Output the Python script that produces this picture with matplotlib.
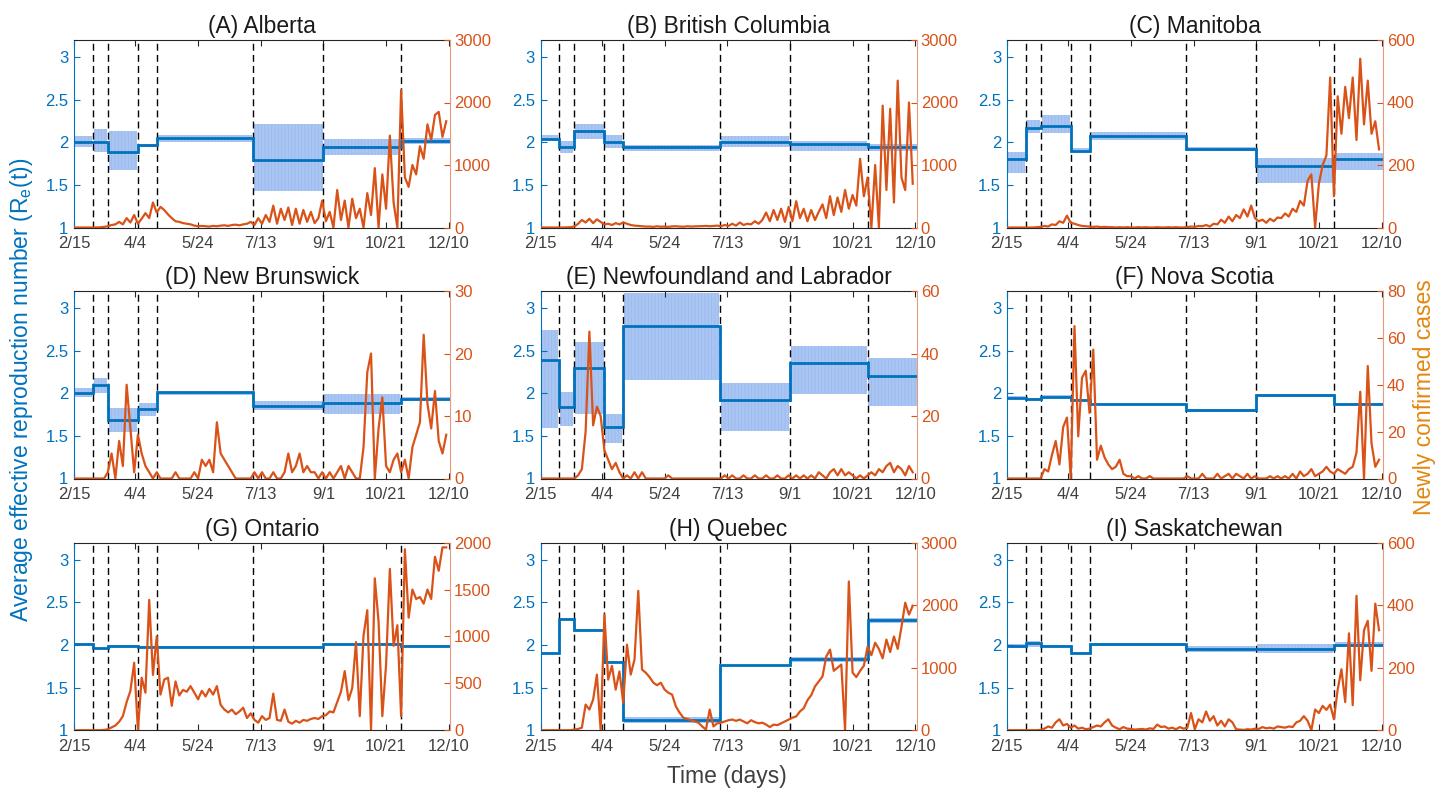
import numpy as np
import matplotlib
matplotlib.use("Agg")
import matplotlib.pyplot as plt

plt.rcParams['font.family'] = ['Liberation Sans', 'DejaVu Sans']
plt.rcParams['hatch.linewidth'] = 0.6

BLUE = '#0072BD'
ORANGE = '#D95319'
BAND = '#a9c6f3'
HATCH = '#9bbaee'
GRAY = '#262626'

# ---------------- shared axes data ----------------
change_days = [15, 27, 51, 66, 143, 199, 261]
seg_bounds = [0] + change_days + [300]
tick_days = [0, 49, 99, 149, 199, 249, 299]
tick_labels = ['2/15', '4/4', '5/24', '7/13', '9/1', '10/21', '12/10']
case_days = np.arange(0, 300, 3)
re_ticks = [1, 1.5, 2, 2.5, 3]
re_tick_labels = ['1', '1.5', '2', '2.5', '3']

titles = ['(A) Alberta', '(B) British Columbia', '(C) Manitoba',
          '(D) New Brunswick', '(E) Newfoundland and Labrador', '(F) Nova Scotia',
          '(G) Ontario', '(H) Quebec', '(I) Saskatchewan']

# ---------------- effective reproduction number (per segment) ----------------
re_A_mean = [2.00, 2.00, 1.89, 1.965, 2.045, 1.79, 1.945, 2.01]
re_A_low  = [1.94, 1.89, 1.68, 1.945, 2.00, 1.43, 1.85, 1.98]
re_A_high = [2.07, 2.15, 2.13, 1.985, 2.08, 2.21, 2.04, 2.05]

re_B_mean = [2.04, 1.95, 2.13, 2.00, 1.94, 2.00, 1.975, 1.945]
re_B_low  = [2.01, 1.88, 2.04, 1.93, 1.90, 1.94, 1.90, 1.90]
re_B_high = [2.08, 2.02, 2.22, 2.08, 1.97, 2.07, 2.02, 1.98]

re_C_mean = [1.80, 2.17, 2.19, 1.90, 2.07, 1.92, 1.72, 1.80]
re_C_low  = [1.64, 2.11, 2.11, 1.87, 2.03, 1.90, 1.52, 1.68]
re_C_high = [1.89, 2.26, 2.32, 1.93, 2.12, 1.94, 1.82, 1.87]

re_D_mean = [2.00, 2.10, 1.69, 1.815, 2.01, 1.845, 1.89, 1.935]
re_D_low  = [1.955, 2.00, 1.55, 1.73, 1.98, 1.80, 1.755, 1.915]
re_D_high = [2.065, 2.185, 1.825, 1.885, 2.02, 1.905, 1.99, 1.955]

re_E_mean = [2.39, 1.84, 2.30, 1.60, 2.79, 1.925, 2.36, 2.20]
re_E_low  = [1.59, 1.62, 1.76, 1.42, 2.16, 1.555, 1.995, 1.855]
re_E_high = [2.74, 2.02, 2.60, 1.76, 3.175, 2.125, 2.56, 2.41]

re_F_mean = [1.95, 1.93, 1.96, 1.92, 1.875, 1.80, 1.975, 1.875]
re_F_low  = [1.935, 1.915, 1.945, 1.905, 1.86, 1.785, 1.96, 1.86]
re_F_high = [1.965, 1.945, 1.975, 1.935, 1.89, 1.815, 1.99, 1.89]

re_G_mean = [2.008, 1.96, 1.99, 1.973, 1.973, 1.973, 2.016, 1.988]
re_G_low  = [1.998, 1.95, 1.98, 1.963, 1.963, 1.963, 2.006, 1.978]
re_G_high = [2.018, 1.97, 2.00, 1.983, 1.983, 1.983, 2.026, 1.998]

re_H_mean = [1.905, 2.305, 2.18, 1.80, 1.115, 1.76, 1.83, 2.29]
re_H_low  = [1.895, 2.29, 2.17, 1.785, 1.08, 1.75, 1.80, 2.26]
re_H_high = [1.915, 2.32, 2.19, 1.815, 1.15, 1.77, 1.86, 2.32]

re_I_mean = [1.99, 2.02, 1.99, 1.905, 2.008, 1.953, 1.953, 2.004]
re_I_low  = [1.97, 1.98, 1.98, 1.89, 1.99, 1.914, 1.906, 1.977]
re_I_high = [2.015, 2.05, 2.00, 1.92, 2.025, 1.992, 2.016, 2.03]

# ---------------- newly confirmed cases (every 3 days from 2/15) ----------------
cases_A = [0, 0, 0, 0, 0, 0, 1, 3, 10, 20,
           40, 50, 90, 50, 150, 80, 200, 60, 140, 230,
           150, 400, 240, 330, 280, 210, 150, 100, 90, 70,
           60, 50, 30, 20, 25, 20, 15, 25, 20, 30,
           35, 25, 40, 45, 35, 50, 60, 90, 40, 150,
           60, 200, 90, 350, 60, 300, 120, 320, 40, 300,
           60, 280, 90, 250, 70, 150, 430, 100, 250, 0,
           600, 120, 430, 0, 460, 150, 300, 0, 550, 200,
           950, 0, 850, 300, 1470, 400, 0, 2200, 800, 650,
           1000, 850, 1300, 1100, 1650, 1400, 1800, 1850, 1450, 1700]

cases_B = [0, 0, 0, 0, 0, 0, 0, 2, 5, 15,
           60, 120, 80, 140, 70, 130, 90, 50, 60, 40,
           70, 50, 80, 60, 40, 30, 25, 20, 15, 15,
           10, 20, 12, 15, 10, 18, 20, 15, 12, 20,
           15, 18, 20, 22, 25, 20, 25, 30, 20, 40,
           25, 60, 30, 80, 40, 60, 50, 100, 60, 120,
           240, 100, 280, 120, 300, 90, 330, 100, 420, 150,
           300, 100, 280, 120, 250, 370, 150, 500, 200, 480,
           250, 600, 300, 520, 350, 1100, 500, 800, 0, 1000,
           0, 1950, 600, 1900, 400, 2350, 800, 600, 2000, 700]

cases_C = [0, 0, 0, 0, 0, 0, 0, 0, 1, 2,
           5, 3, 10, 8, 20, 15, 38, 15, 12, 8,
           5, 4, 3, 2, 3, 1, 2, 1, 1, 0,
           1, 0, 1, 0, 0, 1, 0, 1, 0, 0,
           1, 0, 0, 1, 0, 1, 0, 0, 1, 3,
           2, 5, 4, 8, 3, 12, 10, 25, 15, 35,
           20, 40, 30, 58, 35, 70, 30, 20, 25, 15,
           28, 20, 32, 30, 45, 35, 60, 50, 85, 70,
           150, 170, 0, 140, 200, 230, 480, 100, 420, 300,
           450, 350, 480, 280, 540, 330, 470, 300, 340, 250]

cases_D = [0, 0, 0, 0, 0, 0, 0, 0, 0, 1,
           4, 0, 6, 2, 15, 8, 1, 7, 4, 2,
           1, 0, 1, 0, 0, 0, 0, 1, 0, 0,
           0, 0, 1, 0, 3, 2, 3, 1, 9, 4,
           3, 2, 1, 0, 0, 0, 0, 0, 1, 0,
           1, 0, 0, 1, 0, 0, 1, 4, 1, 2,
           4, 1, 2, 1, 1, 0, 1, 0, 1, 0,
           1, 2, 0, 2, 1, 0, 0, 5, 17, 20,
           0, 8, 13, 2, 1, 3, 4, 1, 3, 0,
           5, 7, 9, 23, 12, 8, 14, 6, 4, 7]

cases_E = [0, 0, 0, 0, 0, 0, 0, 0, 0, 0,
           1, 3, 15, 47, 17, 23, 20, 9, 6, 3,
           5, 2, 0, 1, 0, 2, 0, 2, 0, 0,
           0, 0, 0, 0, 1, 0, 0, 0, 0, 0,
           0, 0, 0, 0, 0, 0, 0, 0, 0, 1,
           0, 1, 0, 0, 1, 0, 0, 1, 0, 0,
           1, 0, 0, 1, 0, 0, 1, 0, 1, 0,
           1, 0, 1, 0, 2, 1, 0, 2, 3, 1,
           3, 1, 2, 1, 0, 1, 0, 1, 2, 1,
           3, 2, 4, 5, 2, 4, 3, 1, 4, 2]

cases_F = [0, 0, 0, 0, 0, 0, 0, 0, 0, 0,
           4, 3, 10, 16, 6, 22, 26, 0, 65, 18,
           43, 46, 28, 55, 8, 14, 9, 6, 4, 5,
           8, 2, 1, 1, 0, 1, 0, 0, 1, 0,
           0, 0, 0, 0, 0, 0, 0, 0, 1, 0,
           0, 0, 2, 0, 0, 0, 2, 0, 1, 2,
           0, 2, 1, 0, 2, 0, 1, 0, 0, 0,
           1, 0, 1, 0, 1, 0, 2, 0, 3, 1,
           2, 4, 1, 2, 3, 5, 3, 2, 4, 3,
           2, 4, 5, 11, 37, 0, 48, 15, 5, 8]

cases_G = [0, 0, 0, 0, 0, 0, 0, 0, 3, 10,
           30, 50, 90, 150, 300, 420, 720, 0, 560, 400,
           1390, 590, 1000, 380, 540, 560, 260, 520, 370, 430,
           410, 470, 400, 330, 420, 360, 440, 380, 470, 270,
           220, 190, 220, 170, 200, 240, 130, 180, 110, 80,
           150, 110, 130, 390, 110, 100, 220, 90, 70, 100,
           80, 110, 100, 120, 130, 120, 150, 160, 200, 190,
           300, 410, 630, 320, 450, 940, 150, 1010, 1280, 0,
           1620, 1160, 150, 700, 1720, 900, 1120, 150, 1930, 1200,
           1500, 1400, 1420, 1350, 1500, 1400, 1850, 1700, 1950, 1950]

cases_H = [0, 0, 0, 0, 0, 0, 0, 0, 0, 10,
           20, 40, 410, 330, 490, 890, 0, 1850, 810, 1030,
           650, 940, 440, 1370, 890, 1130, 2230, 970, 920, 850,
           760, 720, 760, 650, 600, 570, 380, 280, 200, 180,
           160, 140, 120, 60, 10, 330, 60, 110, 120, 140,
           160, 170, 150, 170, 140, 110, 160, 130, 110, 120,
           90, 50, 90, 80, 110, 140, 170, 200, 220, 300,
           350, 480, 560, 700, 780, 860, 1180, 1290, 950, 1000,
           1050, 0, 2380, 920, 850, 950, 1030, 1340, 1200, 1400,
           1300, 1150, 1450, 1250, 1500, 1300, 1650, 2040, 1850, 1990]

cases_I = [0, 0, 0, 0, 0, 0, 0, 0, 0, 1,
           5, 12, 8, 25, 35, 15, 20, 8, 15, 5,
           8, 3, 5, 10, 15, 12, 25, 35, 15, 8,
           3, 10, 5, 4, 2, 3, 4, 2, 6, 4,
           18, 10, 12, 5, 8, 3, 10, 5, 8, 55,
           3, 35, 25, 60, 30, 45, 15, 30, 12, 35,
           25, 3, 2, 1, 3, 2, 5, 4, 10, 6,
           8, 5, 12, 10, 8, 12, 10, 25, 30, 45,
           30, 0, 66, 55, 78, 65, 82, 35, 130, 195,
           90, 310, 80, 430, 160, 320, 350, 190, 405, 320]

case_max = [3000, 3000, 600, 30, 60, 80, 2000, 3000, 600]
case_ticks = [[0, 1000, 2000, 3000], [0, 1000, 2000, 3000], [0, 200, 400, 600],
              [0, 10, 20, 30], [0, 20, 40, 60], [0, 20, 40, 60, 80],
              [0, 500, 1000, 1500, 2000], [0, 1000, 2000, 3000], [0, 200, 400, 600]]

re_means = [re_A_mean, re_B_mean, re_C_mean, re_D_mean, re_E_mean, re_F_mean, re_G_mean, re_H_mean, re_I_mean]
re_lows = [re_A_low, re_B_low, re_C_low, re_D_low, re_E_low, re_F_low, re_G_low, re_H_low, re_I_low]
re_highs = [re_A_high, re_B_high, re_C_high, re_D_high, re_E_high, re_F_high, re_G_high, re_H_high, re_I_high]
cases_all = [cases_A, cases_B, cases_C, cases_D, cases_E, cases_F, cases_G, cases_H, cases_I]

# ---------------- figure ----------------
W, H = 1445, 790
fig = plt.figure(figsize=(W / 100, H / 100), dpi=100)
col_left = [74, 540.5, 1006.8]
row_top = [40, 291, 542.7]
aw, ah = 376, 187.5

for k in range(9):
    r, c = divmod(k, 3)
    ax = fig.add_axes([col_left[c] / W, 1 - (row_top[r] + ah) / H, aw / W, ah / H])
    ax2 = ax.twinx()

    mean, low, high = re_means[k], re_lows[k], re_highs[k]
    nseg = len(mean)
    for j in range(nseg):
        x0 = seg_bounds[j] + (0.7 if j > 0 else 0)
        x1 = seg_bounds[j + 1] - (0.7 if j < nseg - 1 else 0)
        ax.fill_between([x0, x1], [low[j]] * 2, [high[j]] * 2, facecolor=BAND,
                        edgecolor=HATCH, hatch='|||||', linewidth=0, zorder=1)
    for d in change_days:
        ax.axvline(d, color='black', lw=1.0, ls=(0, (5, 3)), zorder=2)
    ax.stairs(mean, seg_bounds, baseline=None, color=BLUE, lw=2.0, zorder=3)

    ax2.plot(case_days, cases_all[k], color=ORANGE, lw=1.6, zorder=4)

    ax.set_xlim(0, 300)
    ax.set_ylim(1, 3.2)
    ax.set_xticks(tick_days, tick_labels)
    ax.set_yticks(re_ticks, re_tick_labels)
    ax2.set_ylim(0, case_max[k])
    ax2.set_yticks(case_ticks[k], [str(t) for t in case_ticks[k]])

    ax.tick_params(axis='x', direction='in', top=True, bottom=True, length=4, width=0.8,
                   color=GRAY, labelcolor='#404040', labelsize=12, pad=6)
    ax.tick_params(axis='y', direction='in', left=True, right=False, length=4, width=0.8,
                   color=BLUE, labelcolor=BLUE, labelsize=12, pad=4)
    ax2.tick_params(axis='y', direction='in', length=4, width=0.8,
                    color=ORANGE, labelcolor=ORANGE, labelsize=12, pad=3)

    ax.spines['left'].set_color(BLUE)
    ax.spines['right'].set_visible(False)
    ax.spines['top'].set_color(GRAY)
    ax.spines['bottom'].set_color(GRAY)
    for s in ['left', 'top', 'bottom']:
        ax2.spines[s].set_visible(False)
    ax2.spines['right'].set_color('#E89A7E')
    for sp in list(ax.spines.values()) + list(ax2.spines.values()):
        sp.set_linewidth(0.8)

    ax.set_title(titles[k], fontsize=16.5, color='#1a1a1a', pad=5)

fig.text(22 / W, 1 - 390 / H, 'Average effective reproduction number (R$_\\mathregular{e}$(t))',
         rotation=90, ha='center', va='center', fontsize=16.5, color=BLUE)
fig.text(1425 / W, 1 - 397 / H, 'Newly confirmed cases', rotation=90,
         ha='center', va='center', fontsize=16.5, color='#E3870E')
fig.text(727 / W, 1 - 777 / H, 'Time (days)', ha='center', va='center',
         fontsize=16.5, color='#404040')

fig.savefig('out.png', dpi=100)
